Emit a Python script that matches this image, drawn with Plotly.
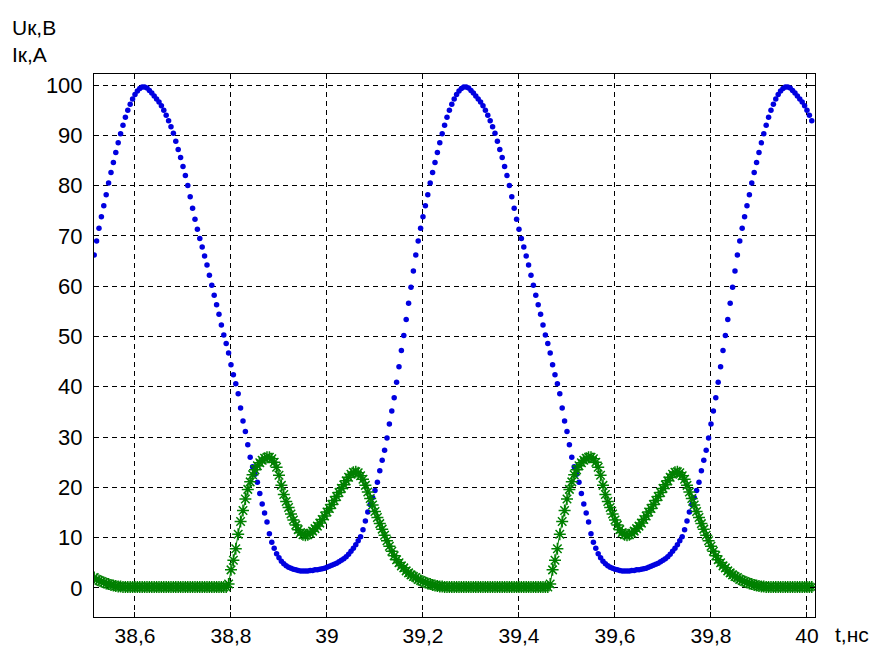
import plotly.graph_objects as go

# time samples, ns
t_ns = [
    38.515, 38.520, 38.525, 38.530, 38.535, 38.540, 38.545, 38.550, 38.555, 38.560,
    38.565, 38.570, 38.575, 38.580, 38.585, 38.590, 38.595, 38.600, 38.605, 38.610,
    38.615, 38.620, 38.625, 38.630, 38.635, 38.640, 38.645, 38.650, 38.655, 38.660,
    38.665, 38.670, 38.675, 38.680, 38.685, 38.690, 38.695, 38.700, 38.705, 38.710,
    38.715, 38.720, 38.725, 38.730, 38.735, 38.740, 38.745, 38.750, 38.755, 38.760,
    38.765, 38.770, 38.775, 38.780, 38.785, 38.790, 38.795, 38.800, 38.805, 38.810,
    38.815, 38.820, 38.825, 38.830, 38.835, 38.840, 38.845, 38.850, 38.855, 38.860,
    38.865, 38.870, 38.875, 38.880, 38.885, 38.890, 38.895, 38.900, 38.905, 38.910,
    38.915, 38.920, 38.925, 38.930, 38.935, 38.940, 38.945, 38.950, 38.955, 38.960,
    38.965, 38.970, 38.975, 38.980, 38.985, 38.990, 38.995, 39.000, 39.005, 39.010,
    39.015, 39.020, 39.025, 39.030, 39.035, 39.040, 39.045, 39.050, 39.055, 39.060,
    39.065, 39.070, 39.075, 39.080, 39.085, 39.090, 39.095, 39.100, 39.105, 39.110,
    39.115, 39.120, 39.125, 39.130, 39.135, 39.140, 39.145, 39.150, 39.155, 39.160,
    39.165, 39.170, 39.175, 39.180, 39.185, 39.190, 39.195, 39.200, 39.205, 39.210,
    39.215, 39.220, 39.225, 39.230, 39.235, 39.240, 39.245, 39.250, 39.255, 39.260,
    39.265, 39.270, 39.275, 39.280, 39.285, 39.290, 39.295, 39.300, 39.305, 39.310,
    39.315, 39.320, 39.325, 39.330, 39.335, 39.340, 39.345, 39.350, 39.355, 39.360,
    39.365, 39.370, 39.375, 39.380, 39.385, 39.390, 39.395, 39.400, 39.405, 39.410,
    39.415, 39.420, 39.425, 39.430, 39.435, 39.440, 39.445, 39.450, 39.455, 39.460,
    39.465, 39.470, 39.475, 39.480, 39.485, 39.490, 39.495, 39.500, 39.505, 39.510,
    39.515, 39.520, 39.525, 39.530, 39.535, 39.540, 39.545, 39.550, 39.555, 39.560,
    39.565, 39.570, 39.575, 39.580, 39.585, 39.590, 39.595, 39.600, 39.605, 39.610,
    39.615, 39.620, 39.625, 39.630, 39.635, 39.640, 39.645, 39.650, 39.655, 39.660,
    39.665, 39.670, 39.675, 39.680, 39.685, 39.690, 39.695, 39.700, 39.705, 39.710,
    39.715, 39.720, 39.725, 39.730, 39.735, 39.740, 39.745, 39.750, 39.755, 39.760,
    39.765, 39.770, 39.775, 39.780, 39.785, 39.790, 39.795, 39.800, 39.805, 39.810,
    39.815, 39.820, 39.825, 39.830, 39.835, 39.840, 39.845, 39.850, 39.855, 39.860,
    39.865, 39.870, 39.875, 39.880, 39.885, 39.890, 39.895, 39.900, 39.905, 39.910,
    39.915, 39.920, 39.925, 39.930, 39.935, 39.940, 39.945, 39.950, 39.955, 39.960,
    39.965, 39.970, 39.975, 39.980, 39.985, 39.990, 39.995, 40.000, 40.005, 40.010,
]

# collector voltage, V
u_k = [
    66.2, 69.0, 71.5, 73.8, 76.0, 78.2, 80.5, 82.6, 84.6, 86.6,
    88.5, 90.3, 92.0, 93.6, 95.0, 96.2, 97.2, 98.1, 98.8, 99.3,
    99.6,
    99.6, 99.4, 98.9, 98.4, 97.8, 97.2, 96.6, 95.9, 95.0, 94.0,
    92.9, 91.7, 90.4, 88.8, 87.2, 85.6, 83.8, 82.0, 80.0, 77.8,
    75.5, 73.3, 71.3, 69.5, 67.8, 66.0, 64.2, 62.2, 60.2, 58.2,
    56.3, 54.4, 52.3, 50.3, 48.6, 46.7, 44.4, 42.4, 40.6, 38.6,
    35.8, 33.2, 31.1, 28.5, 26.0, 24.1, 22.6, 21.0, 18.8, 16.7,
    14.9, 13.1, 10.8, 9.1, 7.9, 6.8, 6.0, 5.3, 4.8, 4.4,
    4.1, 3.9, 3.7, 3.6, 3.5, 3.4, 3.4, 3.4, 3.4, 3.5,
    3.5, 3.6, 3.6, 3.7, 3.8, 3.9, 4.1, 4.3, 4.5, 4.7,
    4.9, 5.2, 5.5, 5.8, 6.2, 6.7, 7.3, 7.9, 8.6, 9.4,
    10.2, 11.6, 13.3, 15.1, 16.6, 18.0, 19.4, 21.0, 23.3, 25.4,
    27.4, 29.8, 32.6, 35.2, 37.8, 40.9, 44.0, 47.2, 50.2, 53.4,
    56.6, 59.8, 63.0, 66.2, 69.0, 71.5, 73.8, 76.0, 78.2, 80.5,
    82.6, 84.6, 86.6, 88.5, 90.3, 92.0, 93.6, 95.0, 96.2, 97.2,
    98.1, 98.8, 99.3, 99.6,
    99.6, 99.4, 98.9, 98.4, 97.8, 97.2, 96.6, 95.9, 95.0, 94.0,
    92.9, 91.7, 90.4, 88.8, 87.2, 85.6, 83.8, 82.0, 80.0, 77.8,
    75.5, 73.3, 71.3, 69.5, 67.8, 66.0, 64.2, 62.2, 60.2, 58.2,
    56.3, 54.4, 52.3, 50.3, 48.6, 46.7, 44.4, 42.4, 40.6, 38.6,
    35.8, 33.2, 31.1, 28.5, 26.0, 24.1, 22.6, 21.0, 18.8, 16.7,
    14.9, 13.1, 10.8, 9.1, 7.9, 6.8, 6.0, 5.3, 4.8, 4.4,
    4.1, 3.9, 3.7, 3.6, 3.5, 3.4, 3.4, 3.4, 3.4, 3.5,
    3.5, 3.6, 3.6, 3.7, 3.8, 3.9, 4.1, 4.3, 4.5, 4.7,
    4.9, 5.2, 5.5, 5.8, 6.2, 6.7, 7.3, 7.9, 8.6, 9.4,
    10.2, 11.6, 13.3, 15.1, 16.6, 18.0, 19.4, 21.0, 23.3, 25.4,
    27.4, 29.8, 32.6, 35.2, 37.8, 40.9, 44.0, 47.2, 50.2, 53.4,
    56.6, 59.8, 63.0, 66.2, 69.0, 71.5, 73.8, 76.0, 78.2, 80.5,
    82.6, 84.6, 86.6, 88.5, 90.3, 92.0, 93.6, 95.0, 96.2, 97.2,
    98.1, 98.8, 99.3, 99.6,
    99.6, 99.4, 98.9, 98.4, 97.8, 97.2, 96.6, 95.9, 95.0, 94.0,
    92.9,
]

# collector current, A
i_k = [
    2.1, 1.7, 1.5, 1.3, 1.1, 0.9, 0.8, 0.6, 0.5, 0.4,
    0.3, 0.3, 0.2, 0.2, 0.2, 0.2, 0.2, 0.2, 0.2, 0.2,
    0.2,
    0.2, 0.2, 0.2, 0.2, 0.2, 0.2, 0.2, 0.2, 0.2, 0.2,
    0.2, 0.2, 0.2, 0.2, 0.2, 0.2, 0.2, 0.2, 0.2, 0.2,
    0.2, 0.2, 0.2, 0.2, 0.2, 0.2, 0.2, 0.2, 0.2, 0.2,
    0.2, 0.2, 0.2, 0.2, 0.2, 0.8, 3.6, 5.5, 7.8, 10.7,
    13.2, 15.4, 17.7, 19.6, 21.1, 22.5, 23.5, 24.3, 24.9, 25.4,
    25.8, 26.0, 26.0, 25.7, 25.0, 24.0, 22.4, 20.4, 18.6, 17.2,
    16.0, 14.7, 13.5, 12.5, 11.6, 11.0, 10.6, 10.5, 10.6, 10.9,
    11.3, 11.8, 12.3, 12.9, 13.6, 14.3, 15.1, 15.8, 16.6, 17.4,
    18.2, 19.0, 19.8, 20.5, 21.3, 22.0, 22.6, 23.0, 23.1, 22.9,
    22.3, 21.6, 20.4, 19.1, 17.8, 16.5, 15.2, 14.0, 12.8, 11.7,
    10.5, 9.4, 8.3, 7.3, 6.4, 5.6, 5.0, 4.4, 4.0, 3.4,
    3.0, 2.6, 2.3, 2.1, 1.7, 1.5, 1.3, 1.1, 0.9, 0.8,
    0.6, 0.5, 0.4, 0.3, 0.3, 0.2, 0.2, 0.2, 0.2, 0.2,
    0.2, 0.2, 0.2, 0.2,
    0.2, 0.2, 0.2, 0.2, 0.2, 0.2, 0.2, 0.2, 0.2, 0.2,
    0.2, 0.2, 0.2, 0.2, 0.2, 0.2, 0.2, 0.2, 0.2, 0.2,
    0.2, 0.2, 0.2, 0.2, 0.2, 0.2, 0.2, 0.2, 0.2, 0.2,
    0.2, 0.2, 0.2, 0.2, 0.2, 0.8, 3.6, 5.5, 7.8, 10.7,
    13.2, 15.4, 17.7, 19.6, 21.1, 22.5, 23.5, 24.3, 24.9, 25.4,
    25.8, 26.0, 26.0, 25.7, 25.0, 24.0, 22.4, 20.4, 18.6, 17.2,
    16.0, 14.7, 13.5, 12.5, 11.6, 11.0, 10.6, 10.5, 10.6, 10.9,
    11.3, 11.8, 12.3, 12.9, 13.6, 14.3, 15.1, 15.8, 16.6, 17.4,
    18.2, 19.0, 19.8, 20.5, 21.3, 22.0, 22.6, 23.0, 23.1, 22.9,
    22.3, 21.6, 20.4, 19.1, 17.8, 16.5, 15.2, 14.0, 12.8, 11.7,
    10.5, 9.4, 8.3, 7.3, 6.4, 5.6, 5.0, 4.4, 4.0, 3.4,
    3.0, 2.6, 2.3, 2.1, 1.7, 1.5, 1.3, 1.1, 0.9, 0.8,
    0.6, 0.5, 0.4, 0.3, 0.3, 0.2, 0.2, 0.2, 0.2, 0.2,
    0.2, 0.2, 0.2, 0.2,
    0.2, 0.2, 0.2, 0.2, 0.2, 0.2, 0.2, 0.2, 0.2, 0.2,
    0.2,
]

x_tick_vals = [38.6, 38.8, 39.0, 39.2, 39.4, 39.6, 39.8, 40.0]
x_tick_text = ["38,6", "38,8", "39", "39,2", "39,4", "39,6", "39,8", "40"]
y_tick_vals = [0, 10, 20, 30, 40, 50, 60, 70, 80, 90, 100]
y_tick_text = ["0", "10", "20", "30", "40", "50", "60", "70", "80", "90", "100"]

FONT = "Arial, Liberation Sans, sans-serif"

fig = go.Figure()
fig.add_trace(go.Scatter(
    x=t_ns, y=u_k, mode="markers", name="Uк",
    marker=dict(symbol="circle", size=5.5, color="#0000e0", line=dict(width=0)),
))
fig.add_trace(go.Scatter(
    x=t_ns, y=i_k, mode="lines+markers", name="Iк",
    line=dict(color="#008000", width=1),
    marker=dict(symbol="asterisk-open", size=10, color="#008000",
                line=dict(color="#008000", width=1.5)),
))

axis_common = dict(
    showline=True, linecolor="black", linewidth=1, mirror="ticks",
    ticks="inside", ticklen=5, tickcolor="black", tickwidth=1,
    showgrid=True, gridcolor="black", gridwidth=1, griddash="5px,4px",
    zeroline=False, automargin=False,
)

fig.update_xaxes(range=[38.5146, 40.0167], tickvals=x_tick_vals, ticktext=x_tick_text,
                 tickfont=dict(family=FONT, size=21, color="black"),
                 ticklabelstandoff=0, **axis_common)
fig.update_yaxes(range=[-5.77, 102.19], tickvals=y_tick_vals, ticktext=y_tick_text,
                 tickfont=dict(family=FONT, size=22, color="black"),
                 ticklabelstandoff=6, **axis_common)

# the page body adds an 8px offset, so the figure is 8px smaller on each side
fig.update_layout(
    width=871, height=640,
    margin=dict(l=86, r=64, t=66, b=31),
    paper_bgcolor="white", plot_bgcolor="white",
    showlegend=False,
    font=dict(family=FONT, color="black"),
    annotations=[
        dict(text="Uк,В", xref="paper", yref="paper", x=(10 - 94) / 721, y=(617 - 27) / 543,
             xanchor="left", yanchor="middle", showarrow=False, font=dict(size=21, family=FONT)),
        dict(text="Iк,А", xref="paper", yref="paper", x=(10 - 94) / 721, y=(617 - 54) / 543,
             xanchor="left", yanchor="middle", showarrow=False, font=dict(size=21, family=FONT)),
        dict(text="t,нс", xref="paper", yref="paper", x=(833 - 94) / 721, y=(617 - 634) / 543,
             xanchor="left", yanchor="middle", showarrow=False, font=dict(size=21, family=FONT)),
    ],
)

fig.write_html("out.html")
